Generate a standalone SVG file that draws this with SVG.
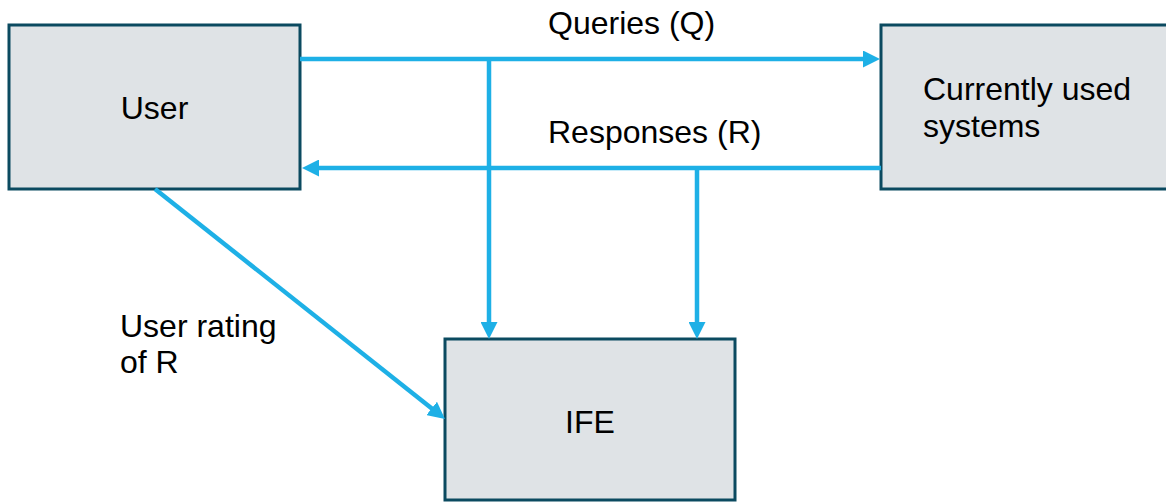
<svg xmlns="http://www.w3.org/2000/svg" width="1166" height="502" viewBox="0 0 1166 502">
<style>
.box{fill:#dfe3e6;stroke:#0b4a60;stroke-width:3}
.lbl{font-family:"Liberation Sans",Arial,sans-serif;font-size:32px;fill:#000}
.conn{fill:none;stroke:#1eb0e6;stroke-width:4.5}
</style>
<defs>
<marker id="ah" markerUnits="userSpaceOnUse" markerWidth="17" markerHeight="17" refX="5" refY="8.5" orient="auto" viewBox="0 0 17 17">
<path d="M0,0 L17,8.5 L0,17 z" fill="#1eb0e6"/>
</marker>
</defs>
<g id="user">
<rect class="box" x="9" y="25" width="291" height="164"/>
<text class="lbl" x="154.5" y="119" text-anchor="middle">User</text>
</g>
<g id="systems">
<rect class="box" x="881" y="25" width="290" height="164"/>
<text class="lbl" x="923" y="100">Currently used</text>
<text class="lbl" x="923" y="137">systems</text>
</g>
<g id="ife">
<rect class="box" x="445" y="339" width="290" height="161"/>
<text class="lbl" x="590" y="433" text-anchor="middle">IFE</text>
</g>
<g id="connectors">
<line class="conn" x1="300" y1="59" x2="868" y2="59" marker-end="url(#ah)"/>
<line class="conn" x1="881" y1="168" x2="314" y2="168" marker-end="url(#ah)"/>
<line class="conn" x1="489" y1="59" x2="489" y2="327" marker-end="url(#ah)"/>
<line class="conn" x1="697" y1="168" x2="697" y2="327" marker-end="url(#ah)"/>
<line class="conn" x1="155" y1="189" x2="435.6" y2="411.5" marker-end="url(#ah)"/>
<text class="lbl" x="548" y="34">Queries (Q)</text>
<text class="lbl" x="548" y="143">Responses (R)</text>
<text class="lbl" x="120" y="337">User rating</text>
<text class="lbl" x="120" y="373">of R</text>
</g>
</svg>
